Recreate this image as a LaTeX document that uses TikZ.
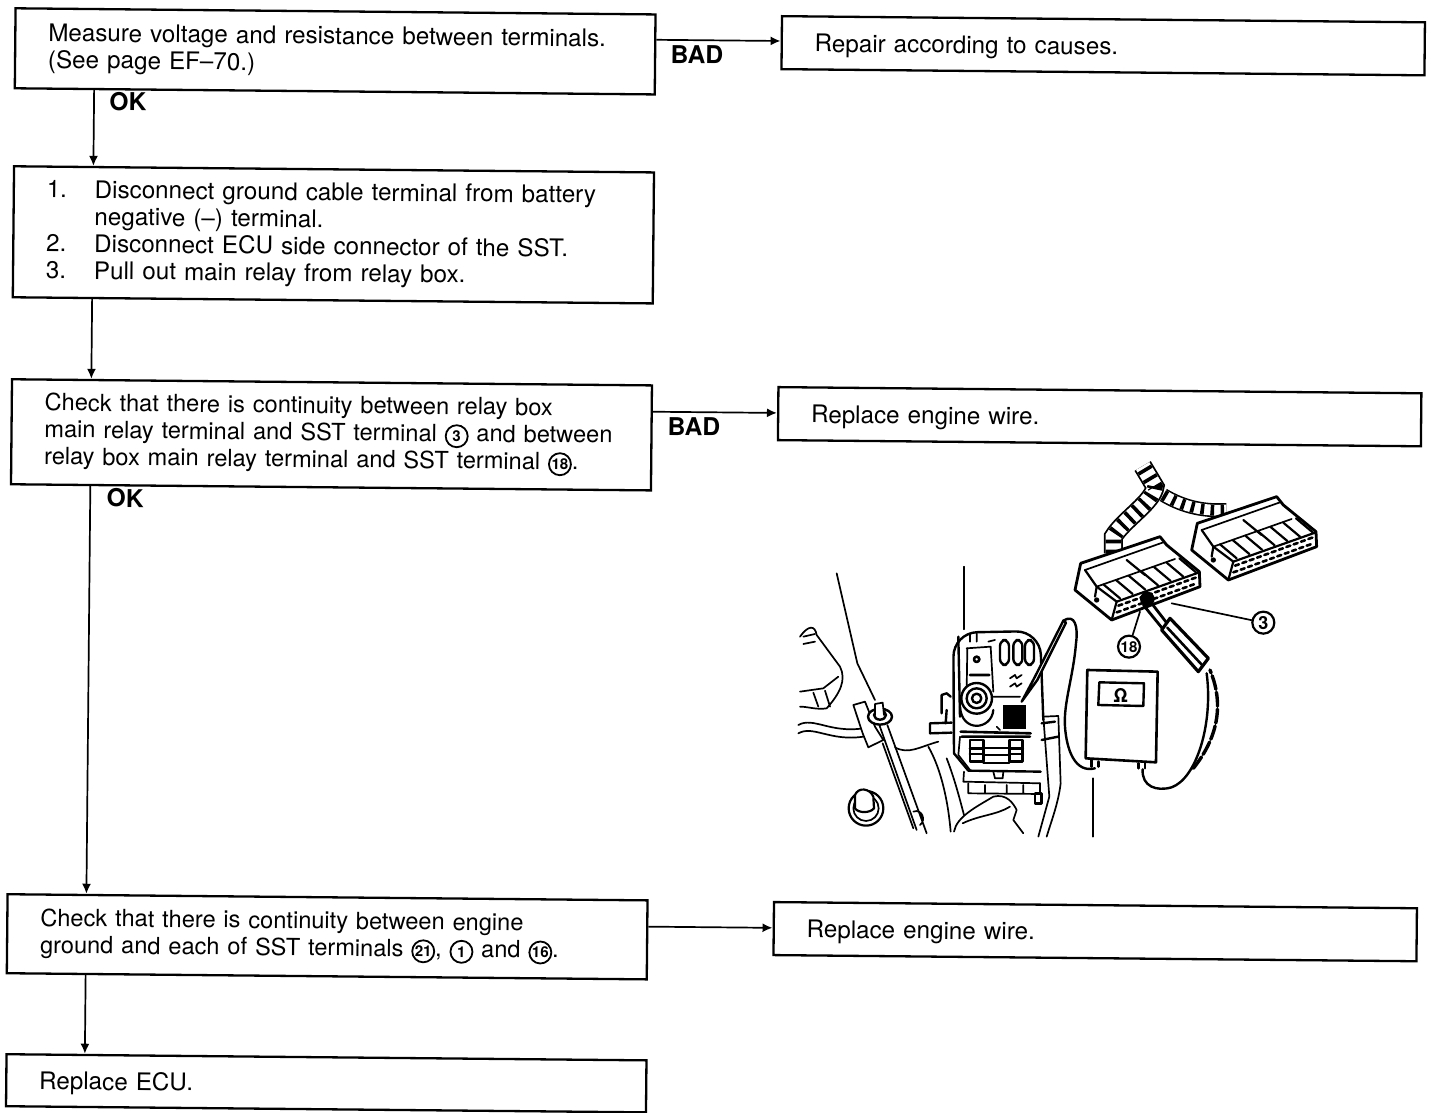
\documentclass[tikz,border=0pt]{standalone}
\usepackage{fontspec}
\setmainfont[WordSpace=0.8]{TeX Gyre Heros}
\usetikzlibrary{arrows.meta}

\newcommand{\stepno}[1]{\makebox[24pt][l]{#1}}
\newcommand{\termno}[1]{\tikz[baseline=(termlabel.base)]\node[draw, circle, line width=0.9pt, inner sep=0pt, minimum size=11pt, font=\fontsize{7.5}{7.5}\selectfont\bfseries] (termlabel) {#1};}

\tikzset{
  flowbox/.style={draw, line width=1.15pt, anchor=north west, inner xsep=16.5pt, inner ysep=0pt, align=left,
    font=\fontsize{12.1}{13.5}\selectfont},
  leftbox/.style={flowbox, minimum width=320pt, text width=287pt},
  rightbox/.style={flowbox, minimum width=321.5pt, text width=288.5pt},
  oneline/.style={text height=11.5pt, text depth=2.6pt},
  checkbox/.style={leftbox, font=\fontsize{11.8}{13.5}\selectfont},
  flowarrow/.style={-{Latex[length=5pt,width=4.5pt]}, line width=0.85pt},
  verdict/.style={font=\fontsize{12.3}{13}\selectfont\bfseries},
  sketch/.style={line width=0.85pt, line join=round, line cap=round},
  tape/.style={line width=#1, dash pattern=on 1.8pt off 3.2pt},
  relayplug/.pic={
    % Plug body
    \draw[sketch, line width=1.4pt, fill=white] (62,325) -- (300,245) -- (320,270) -- (418,350) -- (420,395) -- (155,495) -- (45,405) -- cycle;
    \draw[sketch] (75,345) -- (310,262);
    \draw[sketch, line width=1.1pt] (75,345) -- (110,395) -- (105,425);
    \draw[sketch, line width=1.1pt] (110,395) -- (170,440) -- (155,495);
    \draw[sketch, line width=1.1pt] (170,440) -- (418,352);
    \draw[sketch] (110,395) -- (345,312);
    \draw[sketch, line width=1.1pt] (200,315) -- (255,360);
    % Key stripes
    \foreach \s in {0,1,2,3,4,5,6}
      \draw[sketch, line width=1.1pt] ({130+\s*38},{388-\s*13}) -- ++(50,42);
    % Terminal pins
    \foreach \s in {0,1,...,10} {
      \draw[sketch, line width=1.3pt] ({175+\s*22},{452-\s*8}) -- ++(12,-4);
      \draw[sketch, line width=1.3pt] ({170+\s*22},{472-\s*8}) -- ++(12,-4);
    }
    \fill (110,435) circle (8);
  }
}

\begin{document}
\begin{tikzpicture}[x=0.5pt, y=-0.5pt]
  \useasboundingbox (0,0) rectangle (1430,1113);

  % Flow chart, very slightly turned like the scanned page
  \begin{scope}[rotate=-0.55, transform shape]
    \coordinate (trunk) at (95,0);

    % Left column
    \node[leftbox, minimum height=40pt] (voltage) at (14.5,7) {Measure voltage and resistance between terminals.\\(See page EF--70.)};
    \node[leftbox, minimum height=65.5pt] (disconnect) at (14.5,165) {\stepno{1.}Disconnect ground cable terminal from battery\\\stepno{}negative (--) terminal.\\\stepno{2.}Disconnect ECU side connector of the SST.\\\stepno{3.}Pull out main relay from relay box.};
    \node[checkbox, minimum height=52.5pt] (relaycheck) at (14.5,378) {Check that there is continuity between relay box\\\mbox{main relay terminal and SST terminal \termno{3} and between}\\relay box main relay terminal and SST terminal \termno{18}.};
    \node[checkbox, minimum height=39.5pt] (groundcheck) at (15,893) {Check that there is continuity between engine\\ground and each of SST terminals \termno{21}, \termno{1} and \termno{16}.};
    \node[leftbox, oneline, minimum height=26pt] (ecu) at (15.5,1053) {Replace ECU.};

    % Right column
    \node[rightbox, oneline, minimum height=26.5pt] (repair) at (781,7.5) {Repair according to causes.};
    \node[rightbox, oneline, minimum height=26.5pt] (wireone) at (781,378.5) {Replace engine wire.};
    \node[rightbox, oneline, minimum height=26.5pt] (wiretwo) at (781.5,893.5) {Replace engine wire.};

    % Verdicts
    \node[verdict] (okone) at (129,100) {OK};
    \node[verdict] (oktwo) at (130,497) {OK};
    \node[verdict] (badone) at (697.5,48) {BAD};
    \node[verdict] (badtwo) at (698,420) {BAD};

    % Downward connectors
    \draw[flowarrow] (trunk |- voltage.south) -- (trunk |- disconnect.north);
    \draw[flowarrow] (trunk |- disconnect.south) -- (trunk |- relaycheck.north);
    \draw[flowarrow] (trunk |- relaycheck.south) -- (trunk |- groundcheck.north);
    \draw[flowarrow] (trunk |- groundcheck.south) -- (trunk |- ecu.north);

    % Sideways connectors
    \coordinate (rowone) at (0,33.5);
    \coordinate (rowtwo) at (0,405.5);
    \coordinate (rowthree) at (0,920.5);
    \draw[flowarrow] (voltage.east |- rowone) -- (repair.west |- rowone);
    \draw[flowarrow] (relaycheck.east |- rowtwo) -- (wireone.west |- rowtwo);
    \draw[flowarrow] (groundcheck.east |- rowthree) -- (wiretwo.west |- rowthree);
  \end{scope}

  % Sketch of the relay box, meter and plugs
  \begin{scope}[shift={(780,450)}, x=1/6 pt, y=-1/6 pt]
    % Fender and washer bottle
    \draw[sketch] (60,560) .. controls (85,525) and (105,525) .. (110,555) -- (180,650) .. controls (200,690) and (180,730) .. (140,775) .. controls (110,780) and (85,770) .. (60,770);
    \draw[sketch] (70,560) -- (105,552) (70,582) -- (105,575) (60,725) -- (130,715) -- (175,680) (100,728) -- (115,770) (135,722) -- (150,770);
    \draw[sketch] (170,370) -- (232,640) -- (285,750);

    % Ground wire and bolt
    \draw[sketch] (55,825) .. controls (100,800) and (150,850) .. (250,835);
    \draw[sketch] (55,850) .. controls (100,825) and (150,875) .. (250,860);
    \draw[sketch, fill=white] (220,765) -- (255,755) -- (285,830) -- (310,870) -- (265,892) -- (248,850) -- cycle;
    \draw[sketch, line width=1.2pt, fill=white] (300,800) ellipse (36 and 24);
    \draw[sketch, line width=1.2pt, fill=white] (300,795) ellipse (18 and 14);
    \draw[sketch, fill=white] (285,795) -- (285,762) -- (308,758) -- (312,795);
    \draw[sketch] (298,825) -- (410,1140) (322,825) -- (440,1150) (308,880) -- (400,1135) (400,1085) .. controls (425,1075) and (440,1110) .. (420,1125);

    % Knob
    \draw[sketch, line width=1.1pt] (258,1075) circle (52);
    \draw[sketch] (258,1075) circle (38);
    \draw[sketch, line width=1.1pt, fill=white] (225,1075) -- (225,1035) .. controls (235,1010) and (270,1015) .. (280,1040) -- (282,1075) .. controls (270,1090) and (235,1090) .. (225,1075);

    % Body panel
    \draw[sketch] (345,892) .. controls (385,915) and (420,890) .. (475,875);
    \draw[sketch] (445,890) .. controls (485,960) and (505,1060) .. (512,1145);
    \draw[sketch] (500,925) .. controls (525,990) and (540,1050) .. (552,1095);

    % Relay box
    \draw[sketch] (552,350) -- (552,538);
    \draw[sketch, line width=1.2pt, rounded corners=12] (522,910) -- (520,548) -- (780,543) -- (790,810);
    \draw[sketch, line width=1.2pt] (522,910) -- (565,962) -- (782,965);
    \draw[sketch, line width=1.2pt] (535,560) -- (540,800);
    \draw[sketch] (560,595) -- (632,590) -- (640,725);
    \draw[sketch] (562,595) -- (560,720);
    \draw[sketch, line width=1.3pt] (570,675) -- (628,675) (590,628) circle (8);
    \foreach \fx in {660,700,735}
      \draw[sketch, line width=1.2pt, rounded corners=3] (\fx,570) rectangle ++(27,75);
    \draw[sketch] (690,685) -- (705,675) -- (710,685) -- (725,675) (690,710) -- (705,700) -- (710,710) -- (725,700);
    \draw[sketch] (570,550) -- (570,575) (590,550) -- (590,575) (625,575) -- (645,570);

    % Round plug
    \draw[sketch, line width=1.1pt] (540,770) .. controls (545,850) and (635,840) .. (640,780);
    \draw[sketch, line width=1.2pt, fill=white] (590,745) circle (46);
    \draw[sketch, line width=1.2pt] (590,745) circle (30) (590,745) circle (14);

    % Relay socket and fuses
    \fill (668,765) rectangle (738,838);
    \draw[sketch] (640,740) -- (720,740) (650,830) -- (660,840);
    \draw[sketch, line width=1.3pt] (542,845) -- (752,850) (545,860) -- (750,860);
    \draw[sketch] (540,860) -- (535,915) -- (570,960);
    \foreach \fx in {570,688} {
      \draw[sketch, line width=1.2pt, fill=white] (\fx,870) rectangle ++(40,65);
      \draw[sketch, line width=1.4pt] (\fx,895) -- ++(40,0) (\fx,912) -- ++(40,0);
    }
    \draw[sketch] (610,893) -- (688,893) (610,915) -- (688,915) (610,938) -- (688,938);
    \draw[sketch] (552,965) -- (550,995) -- (780,1000) (640,965) -- (645,985) -- (668,985) -- (670,965);
    \draw[sketch] (565,1000) -- (565,1030) -- (780,1032) -- (780,1000) (615,1005) -- (615,1030) (680,1005) -- (680,1030) (730,1005) -- (730,1030);
    \draw[sketch, line width=1.2pt] (485,790) -- (485,735) -- (500,730) -- (512,740) (450,820) -- (515,818) (450,850) -- (515,848) (450,820) -- (450,850) (500,780) -- (497,820);

    % Lid and hand
    \draw[sketch] (790,800) -- (835,798) -- (842,1000) .. controls (835,1060) and (815,1110) .. (800,1160);
    \draw[sketch] (790,800) -- (808,1040) -- (775,1160);
    \draw[sketch, line width=1.2pt] (785,820) -- (825,815) (785,870) -- (835,860);
    \draw[sketch, line width=1.2pt] (765,1030) rectangle (785,1060);
    \draw[sketch] (522,1145) .. controls (530,1100) and (590,1070) .. (640,1040) .. controls (680,1030) and (700,1060) .. (710,1080) (710,1080) -- (700,1110) -- (730,1150);
    \draw[sketch] (548,1120) .. controls (600,1095) and (650,1095) .. (690,1070);

    % Probe at the relay socket
    \draw[sketch, line width=1.2pt, fill=white] (725,755) -- (765,680) -- (850,512) -- (858,518) -- (772,690) -- cycle;
    \draw[sketch, line width=1.2pt] (850,512) .. controls (885,490) and (895,530) .. (888,580) .. controls (880,680) and (850,760) .. (855,830) .. controls (860,900) and (885,970) .. (945,955);

    % Ohm meter
    \draw[sketch] (938,985) -- (938,1160);
    \draw[sketch, line width=1.3pt, fill=white] (922,660) -- (1133,665) -- (1128,937) -- (917,925) -- cycle;
    \draw[sketch, line width=1.2pt] (958,697) -- (1092,700) -- (1090,768) -- (955,765) -- cycle;
    \node[font=\fontsize{9.5}{9.5}\selectfont\bfseries] (ohm) at (1022,735) {Ω};
    \draw[sketch, line width=1.2pt] (935,930) -- (935,950) (955,935) -- (955,950) (1075,940) -- (1075,955) (1095,940) -- (1095,955);
    \draw[sketch, line width=1.2pt] (1088,958) .. controls (1085,1010) and (1130,1025) .. (1175,1012) .. controls (1250,985) and (1300,820) .. (1280,670);
    \draw[sketch, line width=1.7pt, dash pattern=on 7pt off 1.5pt] (1240,955) .. controls (1300,880) and (1340,780) .. (1290,660);
  \end{scope}

  \begin{scope}[shift={(1060,455)}, x=1/6 pt, y=-1/6 pt]
    % Taped harness
    \draw[line width=9.5pt] (160,295) -- (160,245) .. controls (190,195) and (280,140) .. (285,95) -- (248,33);
    \draw[white, line width=7.7pt] (160,295) -- (160,245) .. controls (190,195) and (280,140) .. (285,95) -- (248,33);
    \draw[tape=7.7pt] (160,295) -- (160,245) .. controls (190,195) and (280,140) .. (285,95) -- (248,33);
    \draw[line width=7pt] (310,120) .. controls (360,150) and (420,170) .. (500,165);
    \draw[white, line width=5.4pt] (310,120) .. controls (360,150) and (420,170) .. (500,165);
    \draw[tape=5.4pt] (310,120) .. controls (360,150) and (420,170) .. (500,165);

    % Plugs
    \pic at (350,-120) {relayplug};
    \pic at (0,0) {relayplug};

    % Test probe
    \fill (262,432) circle (22);
    \draw[sketch, line width=1.4pt] (250,450) -- (315,530) (275,445) -- (325,510);
    \draw[sketch, line width=1.6pt, fill=white] (305,525) -- (330,490) -- (445,610) -- (415,650) -- cycle;
    \draw[sketch, line width=1.3pt] (322,518) -- (428,632);

    % Terminal callouts
    \node[draw, circle, line width=1.1pt, inner sep=0pt, minimum size=11pt, font=\fontsize{9}{9}\selectfont\bfseries] (pinthree) at (610,503) {3};
    \node[draw, circle, line width=1.1pt, inner sep=0pt, minimum size=11pt, font=\fontsize{7.5}{7.5}\selectfont\bfseries] (pineighteen) at (207,575) {18};
    \coordinate (pinthreeend) at (335,445);
    \coordinate (pineighteenend) at (240,470);
    \draw[sketch] (pinthree) -- (pinthreeend);
    \draw[sketch] (pineighteen) -- (pineighteenend);
  \end{scope}
\end{tikzpicture}
\end{document}
